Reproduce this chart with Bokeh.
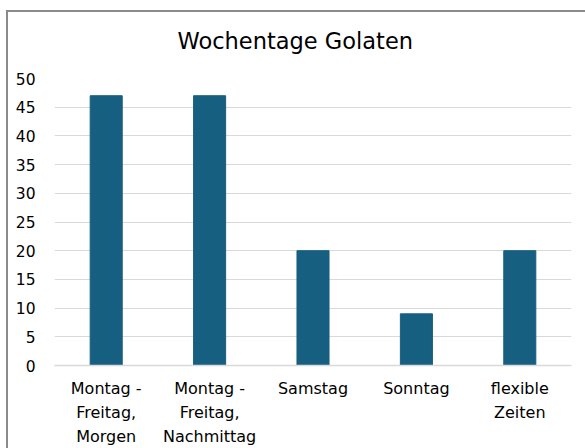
from bokeh.plotting import figure
from bokeh.models import FixedTicker, Title
from bokeh.embed import file_html
from bokeh.resources import INLINE

categories = ["Montag -\nFreitag,\nMorgen", "Montag -\nFreitag,\nNachmittag",
              "Samstag", "Sonntag", "flexible\nZeiten"]
values = [47, 47, 20, 9, 20]
y_ticks = [0, 5, 10, 15, 20, 25, 30, 35, 40, 45, 50]
title_text = "Wochentage Golaten"

FONT = "DejaVu Sans"
BAR = "#175f80"
GRID = "#d9d9d9"
FRAME_LINE = "#8a8a8a"

chart_border = ("linear-gradient({c},{c}) 6px 10px / 100% 2px no-repeat, "
                "linear-gradient({c},{c}) 6px 10px / 2px 100% no-repeat").format(c=FRAME_LINE)

p = figure(x_range=categories, y_range=(0, 50),
           width=585, height=448,
           frame_width=517, frame_height=287,
           min_border_left=54, min_border_right=14,
           min_border_top=78, min_border_bottom=83,
           output_backend="svg", toolbar_location=None,
           styles={"background": chart_border})

p.vbar(x=categories, top=values, width=0.31, color=BAR, line_color=BAR)

t = Title(text=title_text, align="left", offset=123, standoff=50,
          text_font=FONT, text_font_size="22.5px", text_font_style="normal",
          text_color="#000000")
p.add_layout(t, "above")

p.outline_line_color = None
p.background_fill_color = "white"
p.border_fill_color = None

p.xgrid.grid_line_color = None
p.ygrid.grid_line_color = GRID
p.ygrid.grid_line_width = 1

p.yaxis.ticker = FixedTicker(ticks=y_ticks)
p.yaxis.axis_line_color = None
p.yaxis.major_tick_line_color = None
p.yaxis.minor_tick_line_color = None
p.yaxis.major_label_standoff = 13
p.yaxis.major_label_text_font = FONT
p.yaxis.major_label_text_font_size = "15.5px"
p.yaxis.major_label_text_color = "#000000"

p.xaxis.axis_line_color = GRID
p.xaxis.axis_line_width = 1.5
p.xaxis.major_tick_line_color = None
p.xaxis.minor_tick_line_color = None
p.xaxis.major_label_standoff = 7
p.xaxis.major_label_text_font = FONT
p.xaxis.major_label_text_font_size = "16px"
p.xaxis.major_label_text_color = "#000000"
p.xaxis.major_label_text_line_height = 1.28

open("out.html", "w").write(file_html(p, INLINE))
